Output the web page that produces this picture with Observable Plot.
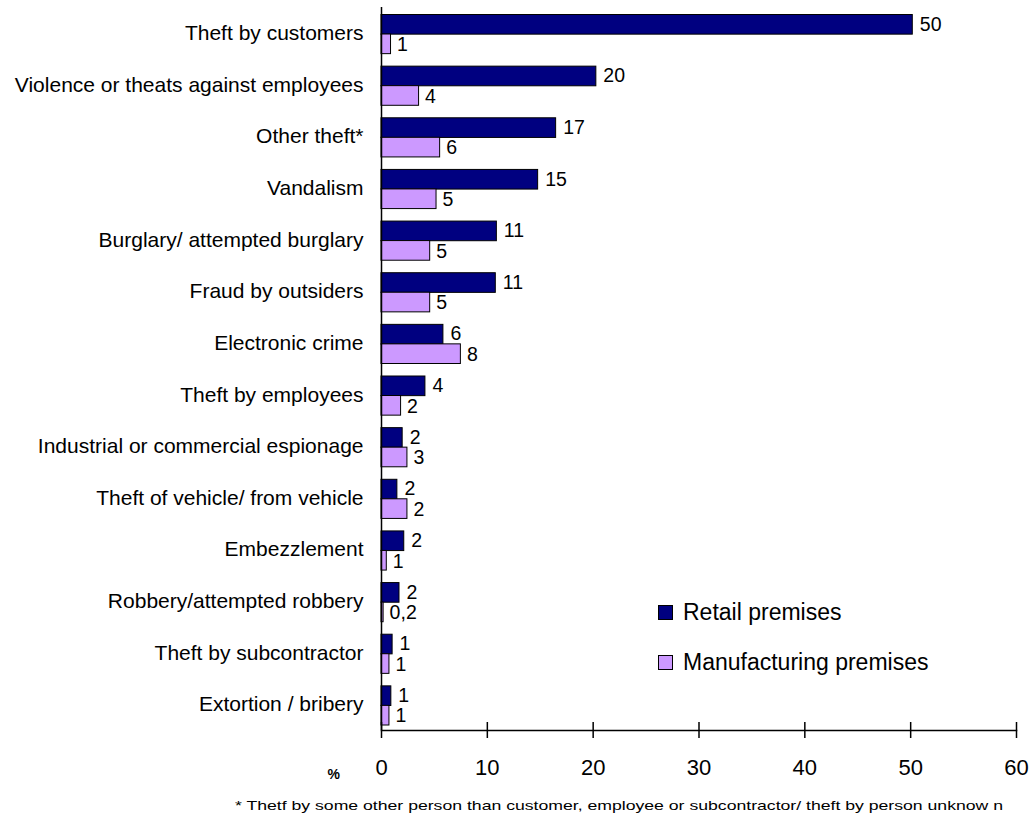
<!DOCTYPE html>
<html>
<head>
<meta charset="utf-8">
<script src="https://cdn.jsdelivr.net/npm/d3@7"></script>
<script src="https://cdn.jsdelivr.net/npm/@observablehq/plot@0.6"></script>
<style>
  html, body { margin: 0; padding: 0; background: #fff; }
  #wrap { position: relative; width: 1030px; height: 819px; font-family: "Liberation Sans", Arial, sans-serif; overflow: hidden; }
  #chart { position: absolute; left: 0; top: 0; }
  #legend { position: absolute; left: 658px; top: 598px; font-size: 23px; color: #000; }
  .item { display: flex; align-items: center; height: 28px; margin-bottom: 22px; }
  .sw { width: 15px; height: 15px; border: 1px solid #000; margin-right: 10px; box-sizing: border-box; }
  #note { position: absolute; top: 798px; left: 235px; font-size: 13px; white-space: nowrap; transform-origin: left top; }
</style>
</head>
<body>
<div id="wrap">
  <div id="chart"></div>
  <div id="legend"></div>
  <div id="note"></div>
</div>
<script>
const categories = [
  "Theft by customers",
  "Violence or theats against employees",
  "Other theft*",
  "Vandalism",
  "Burglary/ attempted burglary",
  "Fraud by outsiders",
  "Electronic crime",
  "Theft by employees",
  "Industrial or commercial espionage",
  "Theft of vehicle/ from vehicle",
  "Embezzlement",
  "Robbery/attempted robbery",
  "Theft by subcontractor",
  "Extortion / bribery"
];
const retail = [50.2, 20.3, 16.5, 14.8, 10.9, 10.8, 5.85, 4.15, 2.0, 1.5, 2.15, 1.7, 1.05, 0.93];
const manufacturing = [0.9, 3.55, 5.54, 5.2, 4.6, 4.6, 7.5, 1.85, 2.45, 2.45, 0.5, 0.2, 0.75, 0.75];
const retailLabels = ["50", "20", "17", "15", "11", "11", "6", "4", "2", "2", "2", "2", "1", "1"];
const manufacturingLabels = ["1", "4", "6", "5", "5", "5", "8", "2", "3", "2", "1", "0,2", "1", "1"];
const seriesNames = ["Retail premises", "Manufacturing premises"];
const seriesColors = ["#000080", "#CC99FF"];
const xTicks = [0, 10, 20, 30, 40, 50, 60];
const footnote = "* Thetf by some other person than customer, employee or subcontractor/ theft by person unknow n";

const rows = categories.map((c, i) => ({
  category: c,
  retail: retail[i],
  manufacturing: manufacturing[i],
  retailLabel: retailLabels[i],
  manufacturingLabel: manufacturingLabels[i]
}));

const font = "Liberation Sans, Arial, sans-serif";

const chart = Plot.plot({
  width: 1030,
  height: 790,
  marginLeft: 381,
  marginRight: 14,
  marginTop: 7,
  marginBottom: 60,
  style: { fontFamily: font, background: "transparent" },
  x: { domain: [0, 60] },
  y: { domain: categories, padding: 0, round: false },
  marks: [
    Plot.barX(rows, { x: "retail", y: "category", fill: seriesColors[0], stroke: "#000", strokeWidth: 1, insetTop: 7.5, insetBottom: 24.5 }),
    Plot.barX(rows, { x: "manufacturing", y: "category", fill: seriesColors[1], stroke: "#000", strokeWidth: 1, insetTop: 27, insetBottom: 5 }),
    Plot.text(rows, { x: "retail", y: "category", text: "retailLabel", dy: -9, dx: 7, textAnchor: "start", fontSize: 19.5, fill: "#000" }),
    Plot.text(rows, { x: "manufacturing", y: "category", text: "manufacturingLabel", dy: 11.5, dx: 6, textAnchor: "start", fontSize: 19.5, fill: "#000" }),
    Plot.ruleX([0], { stroke: "#000", strokeWidth: 1.5 }),
    Plot.frame({ anchor: "bottom", stroke: "#000", strokeWidth: 1.5 }),
    Plot.axisY({ tickSize: 0, tickPadding: 18, fontSize: 21, label: null }),
    Plot.axisX({ ticks: xTicks, tickSize: 8, tickPadding: 21, fontSize: 22, label: null, strokeWidth: 1.5 }),
    Plot.axisX({ ticks: xTicks, tickSize: -8, text: null, label: null, strokeWidth: 1.5 }),
    Plot.text(["%"], { frameAnchor: "bottom-left", dx: -54, dy: 48, fontSize: 14, fontWeight: "bold", fill: "#000" })
  ]
});
document.getElementById("chart").appendChild(chart);

const legend = document.getElementById("legend");
seriesNames.forEach((name, i) => {
  const item = document.createElement("div");
  item.className = "item";
  const sw = document.createElement("div");
  sw.className = "sw";
  sw.style.background = seriesColors[i];
  const t = document.createElement("span");
  t.textContent = name;
  item.appendChild(sw);
  item.appendChild(t);
  legend.appendChild(item);
});

const note = document.getElementById("note");
note.textContent = footnote;
const w = note.getBoundingClientRect().width;
note.style.transform = `scaleX(${768 / w})`;
</script>
</body>
</html>
